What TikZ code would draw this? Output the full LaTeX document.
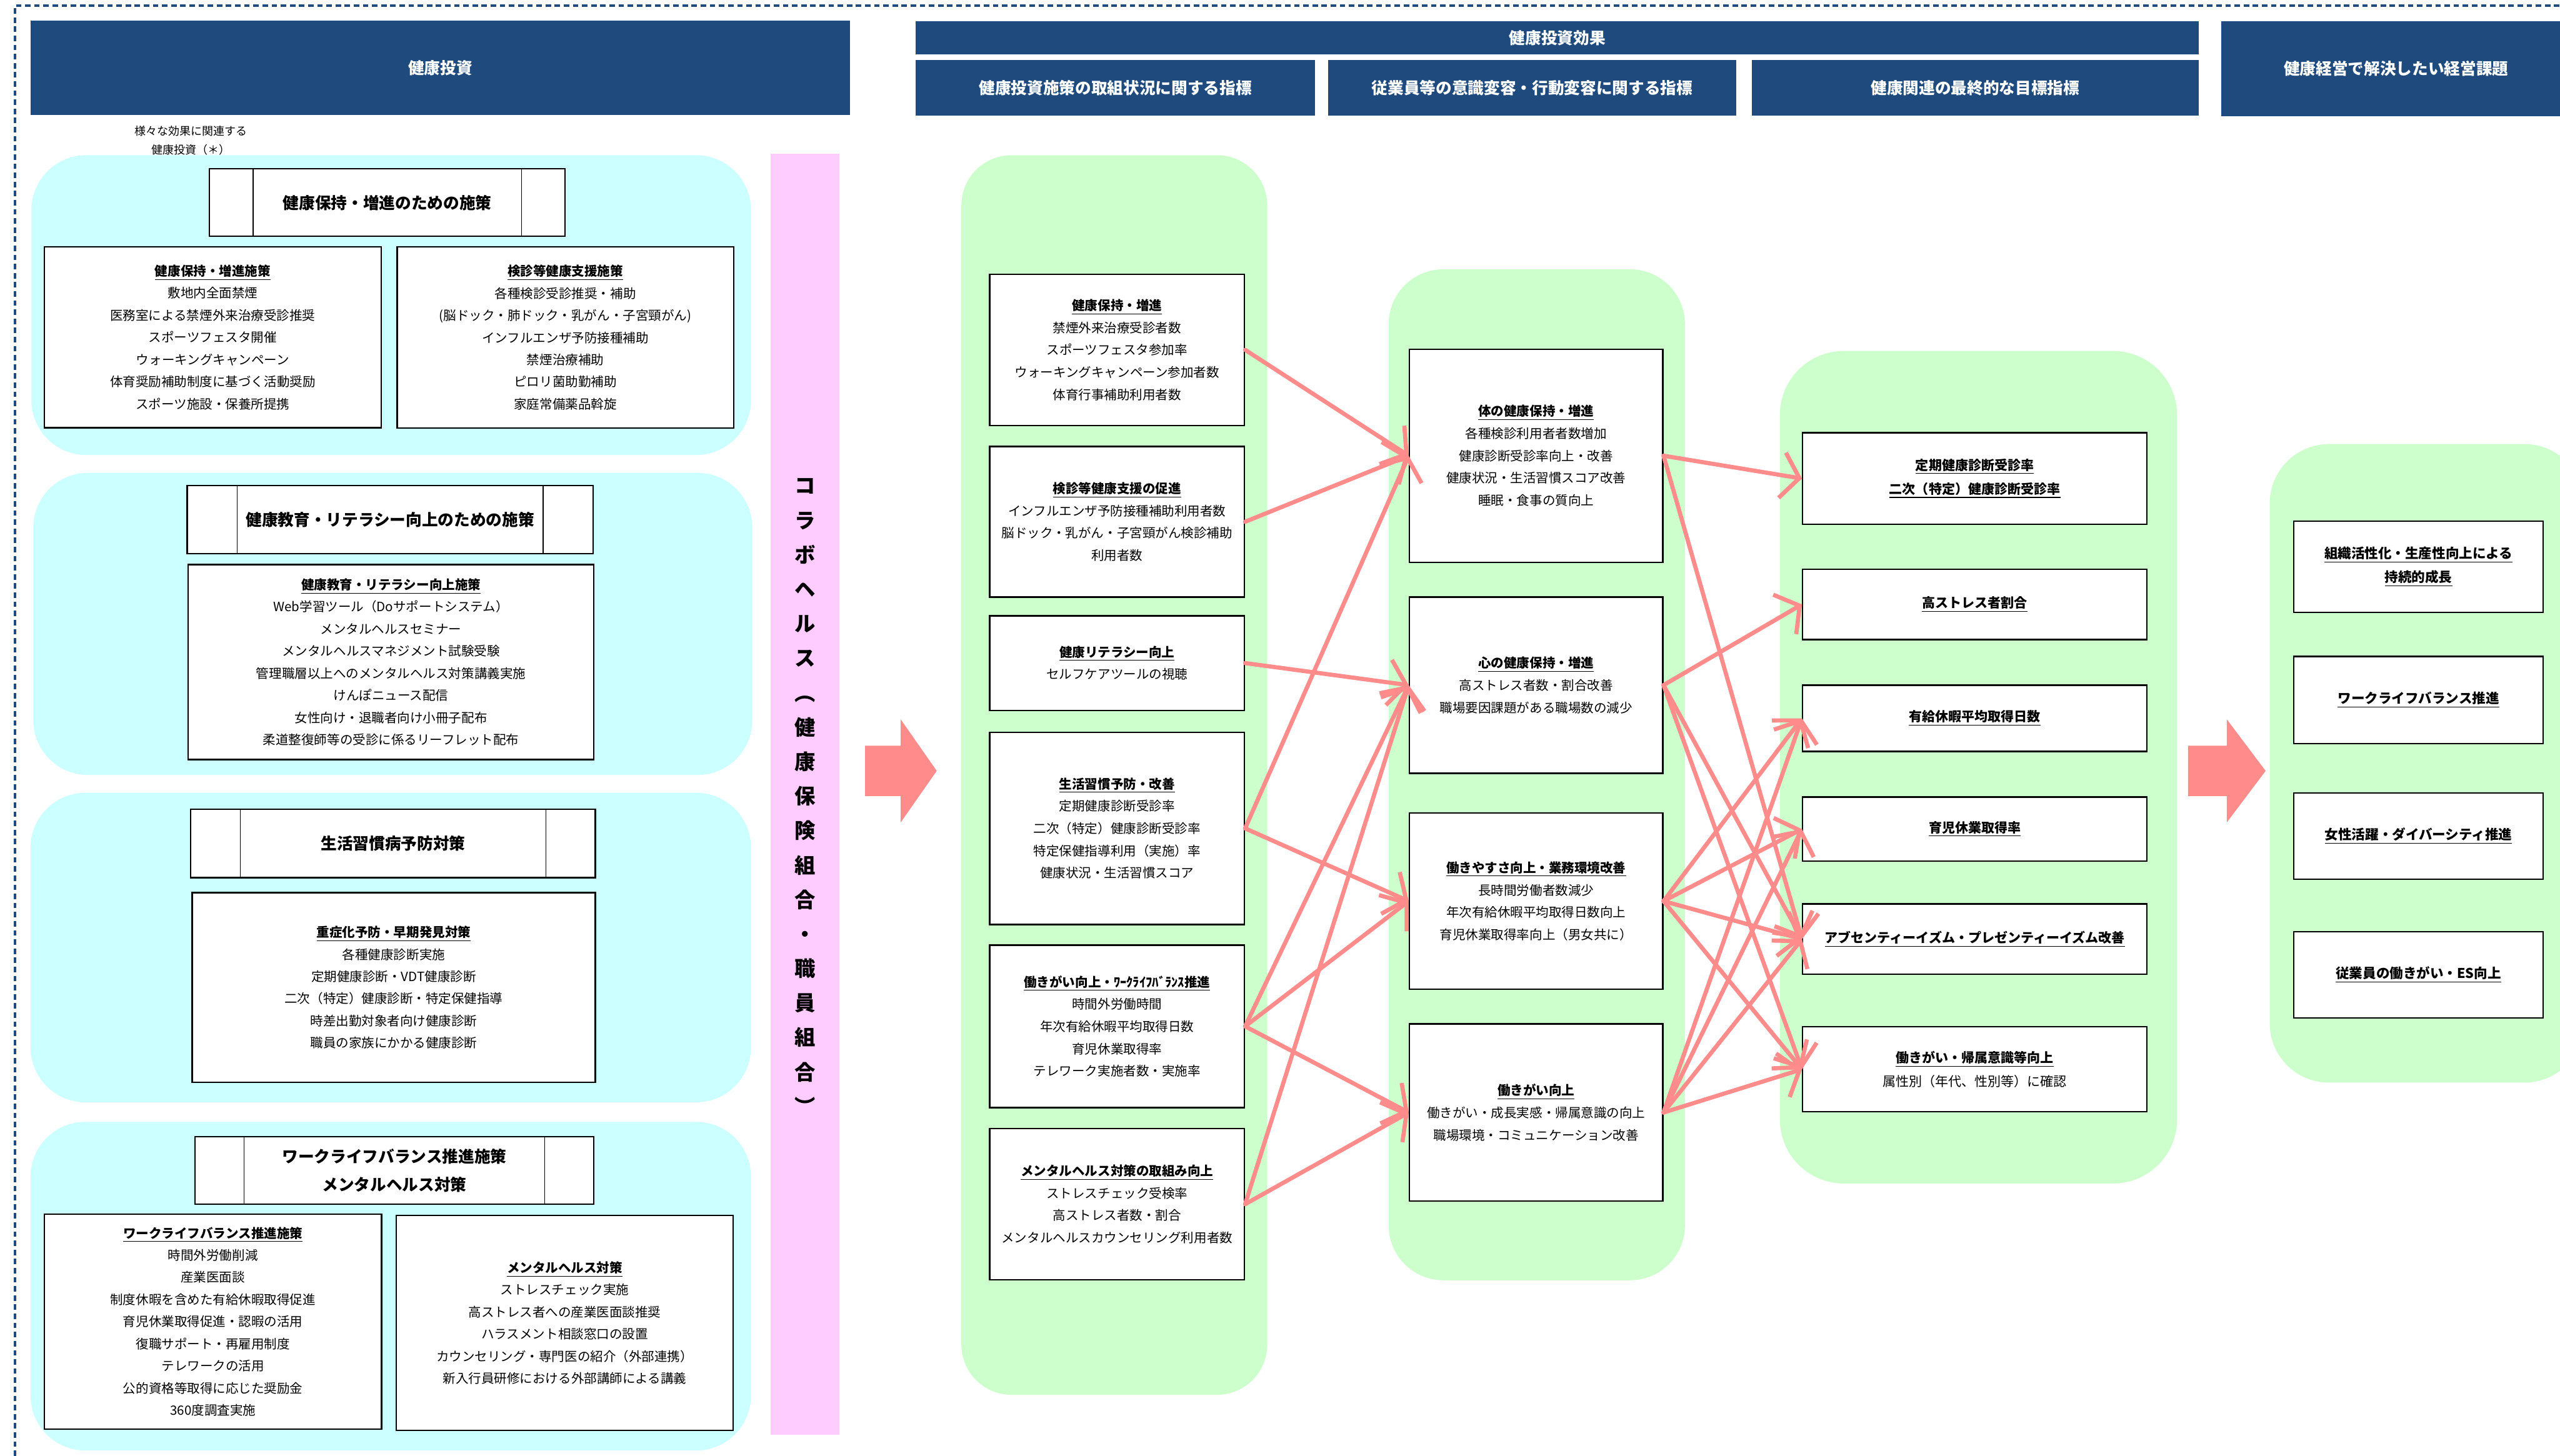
\documentclass[tikz,border=0pt]{standalone}
\usepackage{fontspec}
\newfontfamily\jp{Noto Sans CJK JP}
\usepackage{tikz}
\usetikzlibrary{arrows.meta}
\usetikzlibrary{positioning}
\definecolor{hdrblue}{HTML}{1F4A7D}
\definecolor{panelcyan}{HTML}{CCFFFF}
\definecolor{panelgreen}{HTML}{CCFFCC}
\definecolor{collabpink}{HTML}{FFCCFF}
\definecolor{linkpink}{HTML}{FF8B8B}
\tikzstyle{header} = [rectangle, 
fill=hdrblue, 
text=white, 
inner sep=0pt,
font=\jp\bfseries\fontsize{10}{14}\selectfont]
\tikzstyle{measure_ttl} = [rectangle, 
draw=black, 
line width=0.9pt,
fill=white,
align=center,
font=\jp\bfseries\fontsize{10}{17.6}\selectfont]
\tikzstyle{measure} = [rectangle, 
draw=black, 
line width=0.9pt,
fill=white,
align=center,
font=\jp\fontsize{8}{13.8}\selectfont]
\tikzstyle{index} = [rectangle, 
draw=black, 
line width=0.9pt,
fill=white,
align=center,
minimum width=5.58cm,
font=\jp\fontsize{8}{13.9}\selectfont]
\tikzstyle{index_w} = [index, 
minimum width=7.54cm,
font=\jp\fontsize{8.2}{14.8}\selectfont]
\tikzstyle{index_i} = [index, 
minimum width=5.46cm,
font=\jp\fontsize{8.4}{14.8}\selectfont]
\tikzstyle{link} = [draw, line width=2.6pt, color=linkpink, line cap=round,
-{Straight Barb[length=3.8mm,width=10mm]}]

\begin{document}
\begin{tikzpicture}
\useasboundingbox (0,0) rectangle (56.08,-31.90);
\fill[white] (0,0) rectangle (56.08,-31.90);

% frame
\draw[hdrblue, line width=0.05cm, dash pattern=on 0.12cm off 0.08cm] (0.33,-31.90) -- (0.33,-0.12) -- (56.08,-0.12);

% background panels
\fill[panelcyan, rounded corners=1.2cm] (0.69,-3.40) rectangle (16.45,-9.97);
\fill[panelcyan, rounded corners=1.2cm] (0.73,-10.36) rectangle (16.48,-16.98);
\fill[panelcyan, rounded corners=1.2cm] (0.67,-17.37) rectangle (16.45,-24.15);
\fill[panelcyan, rounded corners=1.2cm] (0.67,-24.58) rectangle (16.45,-31.78);
\fill[collabpink] (16.88,-3.37) rectangle (18.39,-31.43);
\fill[panelgreen, rounded corners=1.1cm] (21.06,-3.40) rectangle (27.76,-30.56);
\fill[panelgreen, rounded corners=1.2cm] (30.42,-5.90) rectangle (36.91,-28.05);
\fill[panelgreen, rounded corners=1.4cm] (38.99,-7.69) rectangle (47.69,-25.93);
\fill[panelgreen, rounded corners=1.3cm] (49.72,-9.73) rectangle (56.60,-23.72);

% block arrows
\foreach \xa/\xb/\xc in {18.95/19.73/20.52, 47.93/48.78/49.63}
  \fill[linkpink] (\xa,-16.34) -- (\xb,-16.34) -- (\xb,-15.76) -- (\xc,-16.89)
    -- (\xb,-18.02) -- (\xb,-17.44) -- (\xa,-17.44) -- cycle;

% headers
\node [header, minimum width=17.95cm, minimum height=2.07cm] (hInv) at (9.645,-1.485) {健康投資};
\node [header, minimum width=28.11cm, minimum height=0.72cm] (hEff) at (34.115,-0.83) {健康投資効果};
\node [header, minimum width=8.75cm, minimum height=1.21cm] (hSub1) at (24.435,-1.925) {健康投資施策の取組状況に関する指標};
\node [header, minimum width=8.95cm, minimum height=1.21cm] (hSub2) at (33.565,-1.925) {従業員等の意識変容・行動変容に関する指標};
\node [header, minimum width=9.80cm, minimum height=1.21cm] (hSub3) at (43.27,-1.925) {健康関連の最終的な目標指標};
\node [header, minimum width=7.66cm, minimum height=2.07cm] (hIssue) at (52.49,-1.505) {健康経営で解決したい経営課題};

\node [align=center, font=\jp\fontsize{7}{11.7}\selectfont] (note) at (4.18,-3.075) {様々な効果に関連する\\健康投資（＊）};

% investment column
\node [measure_ttl, minimum width=7.79cm, minimum height=1.48cm] (ttl1) at (8.485,-4.44) {健康保持・増進のための施策};
\node [measure, minimum width=7.38cm, minimum height=3.96cm] (pol1a) at (4.66,-7.39)
  {\underline{\textbf{健康保持・増進施策}}\\敷地内全面禁煙\\医務室による禁煙外来治療受診推奨\\スポーツフェスタ開催\\ウォーキングキャンペーン\\体育奨励補助制度に基づく活動奨励\\スポーツ施設・保養所提携};
\node [measure, minimum width=7.37cm, minimum height=3.97cm] (pol1b) at (12.385,-7.395)
  {\underline{\textbf{検診等健康支援施策}}\\各種検診受診推奨・補助\\(脳ドック・肺ドック・乳がん・子宮頸がん)\\インフルエンザ予防接種補助\\禁煙治療補助\\ピロリ菌助勤補助\\家庭常備薬品斡旋};

\node [measure_ttl, minimum width=8.89cm, minimum height=1.49cm] (ttl2) at (8.545,-11.385) {健康教育・リテラシー向上のための施策};
\node [measure, minimum width=8.89cm, minimum height=4.27cm] (pol2) at (8.565,-14.505)
  {\underline{\textbf{健康教育・リテラシー向上施策}}\\Web学習ツール（Doサポートシステム）\\メンタルヘルスセミナー\\メンタルヘルスマネジメント試験受験\\管理職層以上へのメンタルヘルス対策講義実施\\けんぽニュース配信\\女性向け・退職者向け小冊子配布\\柔道整復師等の受診に係るリーフレット配布};

\node [measure_ttl, minimum width=8.86cm, minimum height=1.50cm] (ttl3) at (8.61,-18.48) {生活習慣病予防対策};
\node [measure, minimum width=8.83cm, minimum height=4.15cm] (pol3) at (8.625,-21.635)
  {\underline{\textbf{重症化予防・早期発見対策}}\\各種健康診断実施\\定期健康診断・VDT健康診断\\二次（特定）健康診断・特定保健指導\\時差出勤対象者向け健康診断\\職員の家族にかかる健康診断};

\node [measure_ttl, minimum width=8.74cm, minimum height=1.48cm] (ttl4) at (8.64,-25.64) {ワークライフバランス推進施策\\メンタルヘルス対策};
\node [measure, minimum width=7.39cm, minimum height=4.71cm] (pol4a) at (4.665,-28.955)
  {\underline{\textbf{ワークライフバランス推進施策}}\\時間外労働削減\\産業医面談\\制度休暇を含めた有給休暇取得促進\\育児休業取得促進・認暇の活用\\復職サポート・再雇用制度\\テレワークの活用\\公的資格等取得に応じた奨励金\\360度調査実施};
\node [measure, minimum width=7.38cm, minimum height=4.71cm] (pol4b) at (12.37,-28.985)
  {\underline{\textbf{メンタルヘルス対策}}\\ストレスチェック実施\\高ストレス者への産業医面談推奨\\ハラスメント相談窓口の設置\\カウンセリング・専門医の紹介（外部連携）\\新入行員研修における外部講師による講義};

\foreach \n/\d in {ttl1/0.97, ttl2/1.11, ttl3/1.10, ttl4/1.09}{
  \draw[line width=0.5pt] ([xshift=\d cm]\n.north west) -- ([xshift=\d cm]\n.south west);
  \draw[line width=0.5pt] ([xshift=-\d cm]\n.north east) -- ([xshift=-\d cm]\n.south east);
}

\node [align=center, font=\jp\bfseries\fontsize{13}{21.5}\selectfont] (collab) at (17.63,-17.45)
  {コ\\ラ\\ボ\\ヘ\\ル\\ス\\︵\\健\\康\\保\\険\\組\\合\\・\\職\\員\\組\\合\\︶};

% activity indicators
\node [index, minimum height=3.31cm] (kA) at (24.47,-7.665)
  {\underline{\textbf{健康保持・増進}}\\禁煙外来治療受診者数\\スポーツフェスタ参加率\\ウォーキングキャンペーン参加者数\\体育行事補助利用者数};
\node [index, minimum height=3.30cm, below=0.43cm of kA] (kB)
  {\underline{\textbf{検診等健康支援の促進}}\\インフルエンザ予防接種補助利用者数\\脳ドック・乳がん・子宮頸がん検診補助\\利用者数};
\node [index, minimum height=2.07cm, below=0.38cm of kB] (kC)
  {\underline{\textbf{健康リテラシー向上}}\\セルフケアツールの視聴};
\node [index, minimum height=4.21cm, below=0.45cm of kC] (kD)
  {\underline{\textbf{生活習慣予防・改善}}\\定期健康診断受診率\\二次（特定）健康診断受診率\\特定保健指導利用（実施）率\\健康状況・生活習慣スコア};
\node [index, minimum height=3.56cm, below=0.42cm of kD] (kE)
  {\underline{\textbf{働きがい向上・ﾜｰｸﾗｲﾌﾊﾞﾗﾝｽ推進}}\\時間外労働時間\\年次有給休暇平均取得日数\\育児休業取得率\\テレワーク実施者数・実施率};
\node [index, minimum height=3.31cm, below=0.43cm of kE] (kF)
  {\underline{\textbf{メンタルヘルス対策の取組み向上}}\\ストレスチェック受検率\\高ストレス者数・割合\\メンタルヘルスカウンセリング利用者数};

% awareness / behaviour indicators
\node [index, minimum width=5.55cm, minimum height=4.67cm] (eP) at (33.65,-9.985)
  {\underline{\textbf{体の健康保持・増進}}\\各種検診利用者者数増加\\健康診断受診率向上・改善\\健康状況・生活習慣スコア改善\\睡眠・食事の質向上};
\node [index, minimum width=5.55cm, minimum height=3.86cm, below=0.73cm of eP] (eQ)
  {\underline{\textbf{心の健康保持・増進}}\\高ストレス者数・割合改善\\職場要因課題がある職場数の減少};
\node [index, minimum width=5.55cm, minimum height=3.86cm, below=0.84cm of eQ] (eR)
  {\underline{\textbf{働きやすさ向上・業務環境改善}}\\長時間労働者数減少\\年次有給休暇平均取得日数向上\\育児休業取得率向上（男女共に）};
\node [index, minimum width=5.55cm, minimum height=3.88cm, below=0.73cm of eR] (eS)
  {\underline{\textbf{働きがい向上}}\\働きがい・成長実感・帰属意識の向上\\職場環境・コミュニケーション改善};

% final targets
\node [index_w, minimum height=2.01cm] (gT1) at (43.26,-10.485)
  {\underline{\textbf{定期健康診断受診率}}\\\underline{\textbf{二次（特定）健康診断受診率}}};
\node [index_w, minimum height=1.54cm, below=0.95cm of gT1] (gT2) {\underline{\textbf{高ストレス者割合}}};
\node [index_w, minimum height=1.45cm, below=0.97cm of gT2] (gT3) {\underline{\textbf{有給休暇平均取得日数}}};
\node [index_w, minimum height=1.40cm, below=0.97cm of gT3] (gT4) {\underline{\textbf{育児休業取得率}}};
\node [index_w, minimum height=1.54cm, below=0.91cm of gT4] (gT5) {\underline{\textbf{アブセンティーイズム・プレゼンティーイズム改善}}};
\node [index_w, minimum height=1.86cm, below=1.12cm of gT5] (gT6)
  {\underline{\textbf{働きがい・帰属意識等向上}}\\属性別（年代、性別等）に確認};

% management issues
\node [index_i, minimum height=2.00cm] (iU1) at (52.98,-12.42)
  {\underline{\textbf{組織活性化・生産性向上による}}\\\underline{\textbf{持続的成長}}};
\node [index_i, minimum height=1.91cm, below=0.93cm of iU1] (iU2) {\underline{\textbf{ワークライフバランス推進}}};
\node [index_i, minimum height=1.89cm, below=1.05cm of iU2] (iU3) {\underline{\textbf{女性活躍・ダイバーシティ推進}}};
\node [index_i, minimum height=1.89cm, below=1.12cm of iU3] (iU4) {\underline{\textbf{従業員の働きがい・ES向上}}};

% links
\path [link] (kA.east) -- (eP.west);
\path [link] (kB.east) -- (eP.west);
\path [link] (kD.east) -- (eP.west);
\path [link] (kC.east) -- (eQ.west);
\path [link] (kE.east) -- (eQ.west);
\path [link] (kF.east) -- (eQ.west);
\path [link] (kD.east) -- (eR.west);
\path [link] (kE.east) -- (eR.west);
\path [link] (kE.east) -- (eS.west);
\path [link] (kF.east) -- (eS.west);

\path [link] (eP.east) -- (gT1.west);
\path [link] (eP.east) -- (gT5.west);
\path [link] (eQ.east) -- (gT2.west);
\path [link] (eQ.east) -- (gT5.west);
\path [link] (eQ.east) -- (gT6.west);
\path [link] (eR.east) -- (gT3.west);
\path [link] (eR.east) -- (gT4.west);
\path [link] (eR.east) -- (gT5.west);
\path [link] (eR.east) -- (gT6.west);
\path [link] (eS.east) -- (gT3.west);
\path [link] (eS.east) -- (gT4.west);
\path [link] (eS.east) -- (gT5.west);
\path [link] (eS.east) -- (gT6.west);

\end{tikzpicture}
\end{document}
